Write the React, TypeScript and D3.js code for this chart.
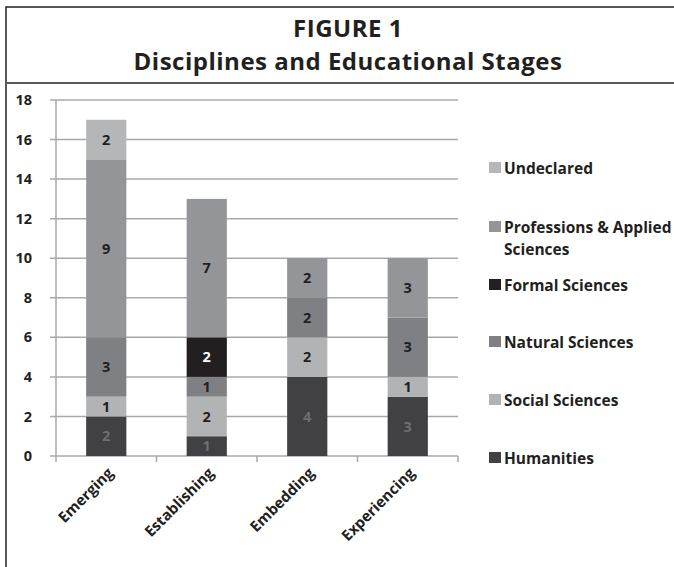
import React from "react";
import * as d3 from "d3";

const stages = ["Emerging", "Establishing", "Embedding", "Experiencing"];
const disciplines = [
  "Humanities",
  "Social Sciences",
  "Natural Sciences",
  "Formal Sciences",
  "Professions & Applied Sciences",
  "Undeclared",
];
const humanities = [2, 1, 4, 3];
const social = [1, 2, 2, 1];
const natural = [3, 1, 2, 3];
const formal = [0, 2, 0, 0];
const professions = [9, 7, 2, 3];
const undeclared = [2, 0, 0, 0];
const yTicks = [0, 2, 4, 6, 8, 10, 12, 14, 16, 18];

const colors = ["#414042", "#b2b3b5", "#7f8083", "#231f20", "#939598", "#b5b6b8"];
const labelColors = ["#6d6e70", "#231f20", "#231f20", "#ffffff", "#231f20", "#231f20"];

const W = 674;
const H = 567;
const font = "'Open Sans', 'DejaVu Sans', sans-serif";

export default function App() {
  const series = [humanities, social, natural, formal, professions, undeclared];
  const table = stages.map((s, i) => {
    const row: Record<string, number | string> = { stage: s };
    disciplines.forEach((d, k) => (row[d] = series[k][i]));
    return row;
  });
  const stacked = d3.stack<any>().keys(disciplines)(table);

  const x = d3.scaleBand().domain(stages).range([56, 458]);
  const y = d3.scaleLinear().domain([0, 18]).range([456, 100]);
  const barW = x.bandwidth() * 0.4;

  const legendY = [458, 400, 342, 285, 227, 168];

  return (
    <svg width={W} height={H} style={{ position: "absolute", left: 0, top: 0 }}>
      <rect x={0} y={0} width={W} height={H} fill="#fff" />
      {/* frame */}
      <path d={`M6,${H + 5} V7 H${W + 5}`} fill="none" stroke="#231f20" strokeWidth={1.5} />
      <line x1={6} x2={W} y1={83} y2={83} stroke="#58595b" strokeWidth={2} />
      <text x={348} y={37} textAnchor="middle" fontFamily={font} fontWeight="bold" fontSize={24} letterSpacing={0.5} fill="#231f20">
        FIGURE 1
      </text>
      <text x={348} y={70} textAnchor="middle" fontFamily={font} fontWeight="bold" fontSize={24} letterSpacing={0.5} fill="#231f20">
        Disciplines and Educational Stages
      </text>

      {/* grid */}
      {yTicks.map((t) => (
        <g key={t}>
          <line x1={50} x2={458} y1={y(t)} y2={y(t)} stroke="#a7a9ac" strokeWidth={1.5} />
          <text x={32} y={y(t)} dy="0.35em" textAnchor="end" fontFamily={font} fontWeight="bold" fontSize={14.5} fill="#231f20">
            {t}
          </text>
        </g>
      ))}
      <line x1={56} x2={56} y1={100} y2={456} stroke="#a7a9ac" strokeWidth={1.5} />
      {[...stages.map((s) => x(s)!), 458].map((v, i) => (
        <line key={i} x1={v} x2={v} y1={456} y2={462} stroke="#a7a9ac" strokeWidth={1.5} />
      ))}

      {/* bars */}
      {stacked.map((layer, k) => (
        <g key={layer.key}>
          {layer.map((d, i) => {
            const v = d[1] - d[0];
            if (!v) return null;
            const cx = x(stages[i])! + x.bandwidth() / 2;
            return (
              <g key={i}>
                <rect x={cx - barW / 2} y={y(d[1])} width={barW} height={y(d[0]) - y(d[1])} fill={colors[k]} />
                <text x={cx} y={(y(d[0]) + y(d[1])) / 2} dy="0.36em" textAnchor="middle" fontFamily={font} fontWeight="bold" fontSize={14.5} fill={labelColors[k]}>
                  {v}
                </text>
              </g>
            );
          })}
        </g>
      ))}

      {/* x labels */}
      {stages.map((s) => {
        const cx = x(s)! + x.bandwidth() / 2;
        return (
          <text key={s} transform={`translate(${cx + 8},${474}) rotate(-45)`} textAnchor="end" fontFamily={font} fontWeight="bold" fontSize={15} fill="#231f20">
            {s}
          </text>
        );
      })}

      {/* legend */}
      {disciplines.map((d, k) => (
        <g key={d}>
          <rect x={489} y={legendY[k] - 6} width={12} height={11} fill={colors[k]} />
          {k === 4 ? (
            <text x={504} y={legendY[k]} dy="0.36em" fontFamily={font} fontWeight="bold" fontSize={15.5} fill="#231f20">
              <tspan>Professions &amp; Applied</tspan>
              <tspan x={504} dy={22}>Sciences</tspan>
            </text>
          ) : (
            <text x={504} y={legendY[k]} dy="0.36em" fontFamily={font} fontWeight="bold" fontSize={15.5} fill="#231f20">
              {d}
            </text>
          )}
        </g>
      ))}
    </svg>
  );
}
